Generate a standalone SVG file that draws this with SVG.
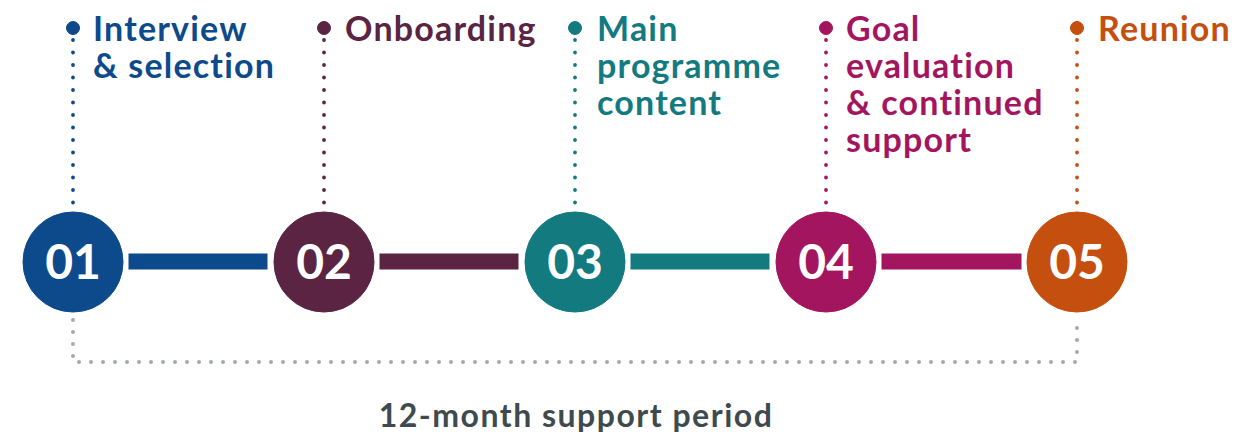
<svg xmlns="http://www.w3.org/2000/svg" width="1258" height="444" viewBox="0 0 1258 444">
<style>
.lbl{font-family:Lato,"Open Sans",sans-serif;font-weight:700;font-size:34px;letter-spacing:1.2px}
.num{font-family:Lato,"Open Sans",sans-serif;font-weight:700;font-size:48px;fill:#fff;text-anchor:middle}
.dot{fill:none;stroke-width:3.8;stroke-linecap:round;stroke-dasharray:0 12.5}
.gray{fill:none;stroke:#a4a9aa;stroke-width:4;stroke-linecap:round;stroke-dasharray:0 12}
.c1{fill:#0d4a8b;stroke:#0d4a8b}.c2{fill:#5a2442;stroke:#5a2442}.c3{fill:#137a80;stroke:#137a80}.c4{fill:#a3165f;stroke:#a3165f}.c5{fill:#c54f0f;stroke:#c54f0f}
</style>
<rect width="1258" height="444" fill="#fff"/>
<g id="connectors">
<rect x="129" y="254" width="138" height="15" class="c1"/>
<rect x="380" y="254" width="138" height="15" class="c2"/>
<rect x="631" y="254" width="138" height="15" class="c3"/>
<rect x="882" y="254" width="139" height="15" class="c4"/>
<path d="M73 320 V362 H1077 V325" class="gray"/>
</g>
<g id="step1">
<circle cx="73" cy="28" r="6.5" class="c1"/>
<line x1="73" y1="40" x2="73" y2="206" class="dot c1"/>
<circle cx="73" cy="262" r="50" class="c1"/>
<text x="73" y="279" class="num">01</text>
<text class="lbl" fill="#0d4a8b"><tspan x="93" y="41">Interview</tspan><tspan x="93" y="78">&amp; selection</tspan></text>
</g>
<g id="step2">
<circle cx="324" cy="28" r="6.5" class="c2"/>
<line x1="324" y1="40" x2="324" y2="206" class="dot c2"/>
<circle cx="324" cy="262" r="50" class="c2"/>
<text x="324" y="279" class="num">02</text>
<text class="lbl" fill="#5a2442"><tspan x="345" y="41">Onboarding</tspan></text>
</g>
<g id="step3">
<circle cx="575" cy="28" r="6.5" class="c3"/>
<line x1="575" y1="40" x2="575" y2="206" class="dot c3"/>
<circle cx="575" cy="262" r="50" class="c3"/>
<text x="575" y="279" class="num">03</text>
<text class="lbl" fill="#137a80"><tspan x="597" y="41">Main</tspan><tspan x="597" y="78">programme</tspan><tspan x="597" y="115">content</tspan></text>
</g>
<g id="step4">
<circle cx="826" cy="28" r="6.5" class="c4"/>
<line x1="826" y1="40" x2="826" y2="206" class="dot c4"/>
<circle cx="826" cy="262" r="50" class="c4"/>
<text x="826" y="279" class="num">04</text>
<text class="lbl" fill="#a3165f"><tspan x="846" y="41">Goal</tspan><tspan x="846" y="78">evaluation</tspan><tspan x="846" y="115">&amp; continued</tspan><tspan x="846" y="152">support</tspan></text>
</g>
<g id="step5">
<circle cx="1077" cy="28" r="6.5" class="c5"/>
<line x1="1077" y1="40" x2="1077" y2="206" class="dot c5"/>
<circle cx="1077" cy="262" r="50" class="c5"/>
<text x="1077" y="279" class="num">05</text>
<text class="lbl" fill="#c54f0f"><tspan x="1098" y="41">Reunion</tspan></text>
</g>
<text x="576" y="427" text-anchor="middle" style="font-family:Lato,'Open Sans',sans-serif;font-weight:700;font-size:32px;letter-spacing:1.5px" fill="#3e4a4d">12-month support period</text>
</svg>
